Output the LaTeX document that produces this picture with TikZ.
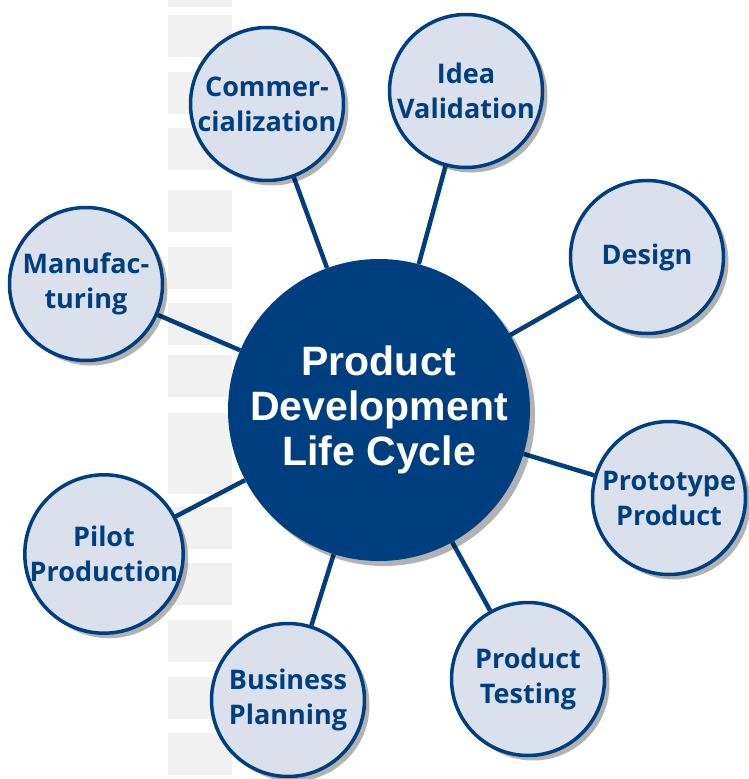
\documentclass[tikz,border=0pt]{standalone}
\usepackage{fontspec}
\setmainfont{Open Sans}
\newfontfamily\hubfont{Liberation Sans}
\usetikzlibrary{shadows}
\pgfdeclarelayer{background}
\pgfsetlayers{background,main}
\definecolor{navy}{HTML}{003F7F}
\definecolor{paleblue}{HTML}{DAE1EC}
\definecolor{stripegray}{HTML}{F1F1F1}

\begin{document}
\begin{tikzpicture}[x=1pt,y=-1pt,
    stage/.style={circle,draw=navy,line width=3.5pt,fill=paleblue,minimum size=153pt,inner sep=0pt,
      align=center,text=navy,font=\fontsize{27}{35}\selectfont\bfseries,
      drop shadow={shadow xshift=5pt,shadow yshift=-5pt,opacity=0.3,fill=black}},
    hub/.style={circle,fill=navy,minimum size=302pt,inner sep=0pt,align=center,text=white,
      font=\hubfont\fontsize{41}{45}\selectfont\bfseries,
      drop shadow={shadow xshift=5pt,shadow yshift=-5pt,opacity=0.3,fill=black}},
    spoke/.style={draw=navy,line width=4.5pt}]
    \useasboundingbox (0,0) rectangle (749,779);

    % Zentrum
    \node[hub] (hub) at (379,410) {Product\\Development\\Life Cycle};

    % Phasen
    \node[stage] (idea) at (466,91) {Idea\\Validation};
    \node[stage] (design) at (647,257) {Design};
    \node[stage] (proto) at (669,498) {Prototype\\Product};
    \node[stage] (testing) at (528,679) {Product\\Testing};
    \node[stage] (business) at (288,700) {Business\\Planning};
    \node[stage] (pilot) at (104,554) {Pilot\\Production};
    \node[stage] (manuf) at (86,284) {Manufac-\\turing};
    \node[stage] (commerce) at (267,104) {Commer-\\cialization};

    \begin{pgfonlayer}{background}
        % Streifen
        \foreach \y in {-35,15,72,128,190,247,303,355,413,452,507,563,620,677,733} {
            \fill[stripegray] (168,\y) rectangle +(64,42);
        }
        % Verbindungen
        \foreach \s in {idea,design,proto,testing,business,pilot,manuf,commerce} {
            \draw[spoke] (hub) -- (\s);
        }
    \end{pgfonlayer}
\end{tikzpicture}
\end{document}
